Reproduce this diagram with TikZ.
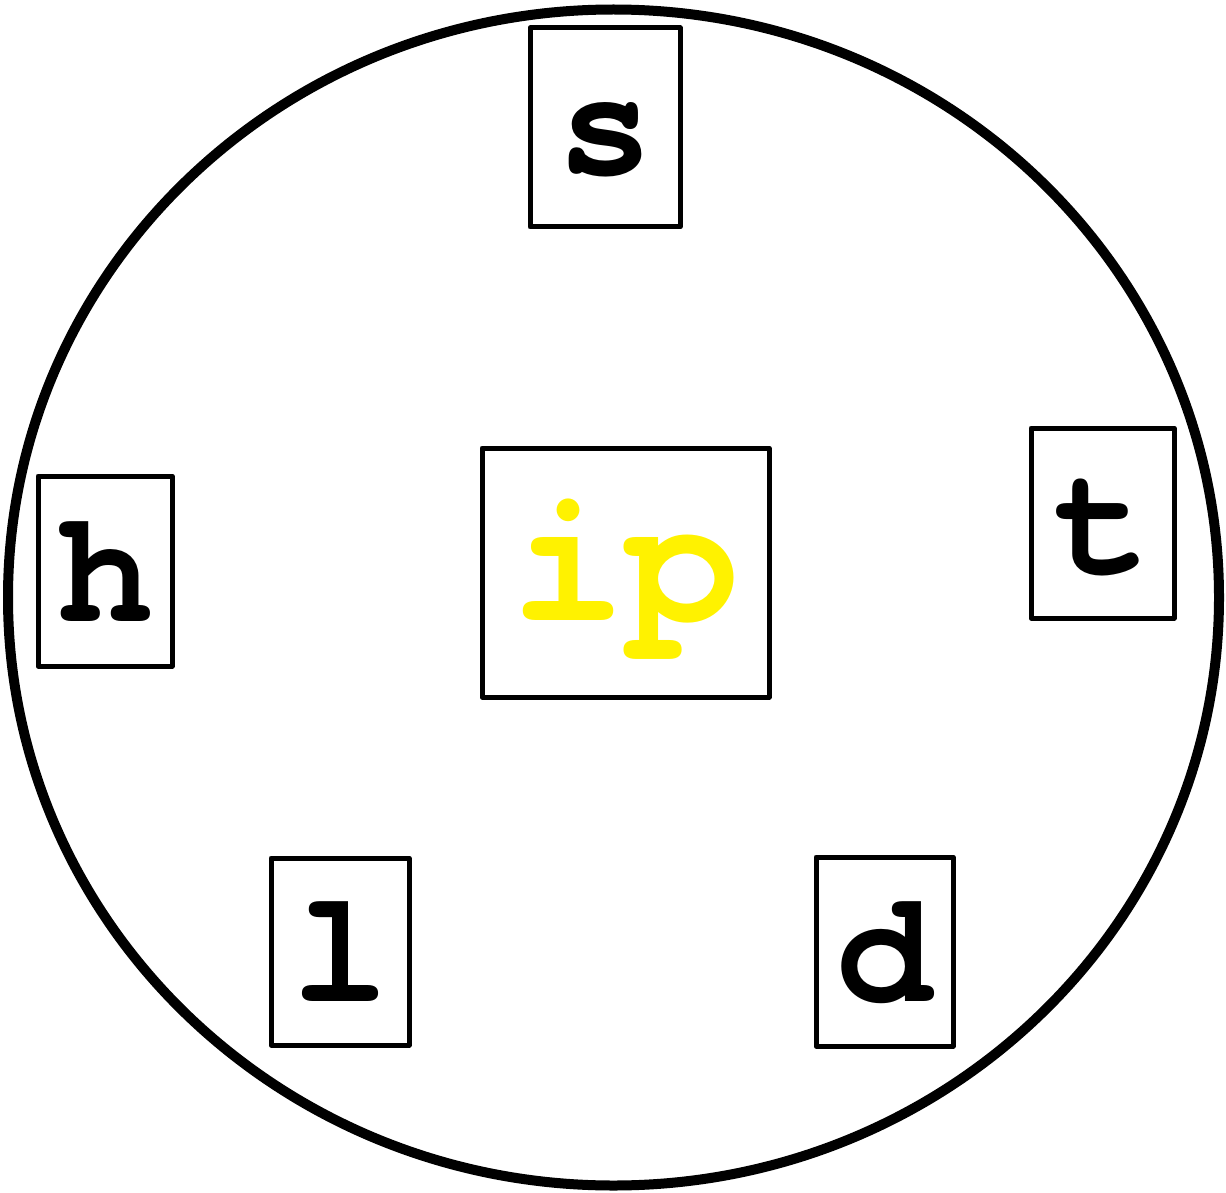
\documentclass[tikz,border=0pt]{standalone}
\usepackage{fontspec}
\usetikzlibrary{shapes.geometric}
\setmonofont{TeX Gyre Cursor}
\begin{document}
\begin{tikzpicture}[x=1pt,y=-1pt,
  letterbox/.style={draw=black,line width=5pt,line join=round,inner sep=0pt,
    text height=100pt,text depth=0pt,
    font=\fontsize{160}{160}\selectfont\ttfamily\bfseries},
  bigletters/.style={font=\fontsize{190}{190}\selectfont\ttfamily\bfseries,text=yellow},
  ring/.style={draw=black,line width=10pt}]
\useasboundingbox (0,0) rectangle (1226,1193);
\node[ring,ellipse,minimum width=1211pt,minimum height=1176pt,inner sep=0pt] (outer) at (613.5,597.5) {};
\node[letterbox,minimum width=150pt,minimum height=199pt,text height=95pt] (s) at (605,127.5) {s};
\node[letterbox,minimum width=143pt,minimum height=190pt] (t) at (1102.5,523) {t};
\node[letterbox,minimum width=134pt,minimum height=190pt] (h) at (105,571) {h};
\node[letterbox,bigletters,minimum width=287pt,minimum height=249pt,text height=96pt] (ip) at (625.5,572.5) {ip};
\node[letterbox,minimum width=138pt,minimum height=187pt] (l) at (340,951.5) {l};
\node[letterbox,minimum width=137pt,minimum height=189pt] (d) at (884.5,951.5) {d};
\end{tikzpicture}
\end{document}
